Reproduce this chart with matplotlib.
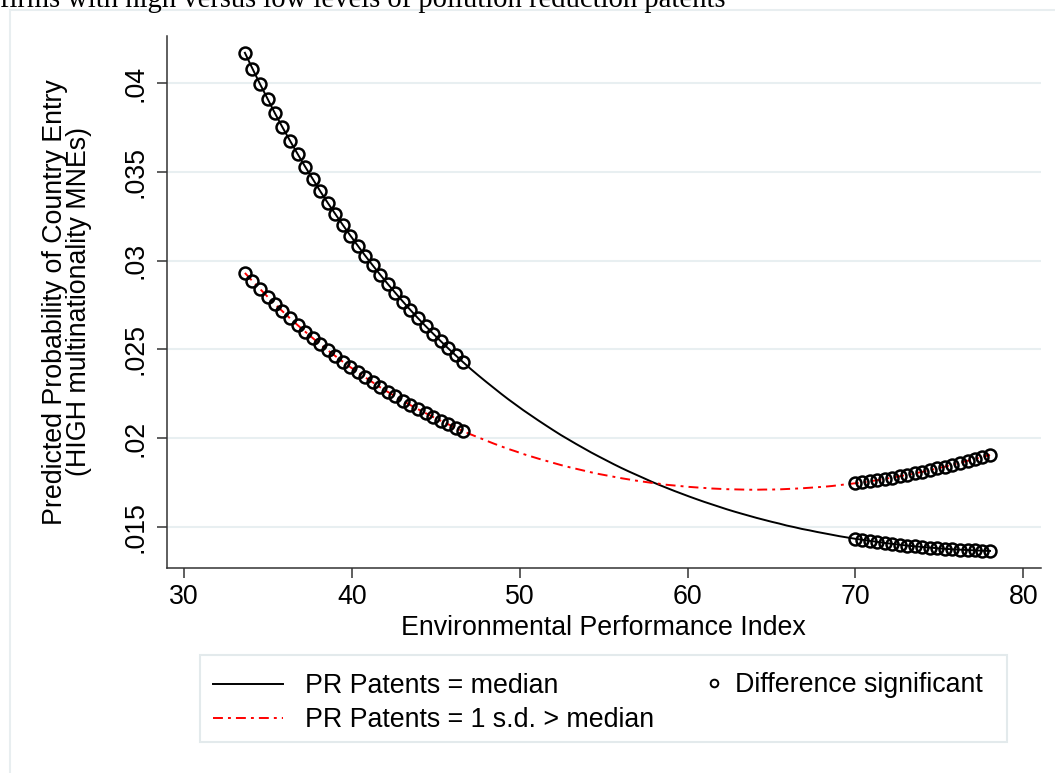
import matplotlib
matplotlib.use("Agg")
import matplotlib.pyplot as plt
from matplotlib.lines import Line2D
from matplotlib.patches import Rectangle

plt.rcParams['font.family'] = ['Liberation Sans', 'DejaVu Sans']

# evaluation grid of the Environmental Performance Index
epi = [33.63, 34.08, 34.53, 34.98, 35.42, 35.87, 36.32, 36.77, 37.22, 37.67,
       38.11, 38.56, 39.01, 39.46, 39.91, 40.36, 40.80, 41.25, 41.70, 42.15,
       42.60, 43.05, 43.49, 43.94, 44.39, 44.84, 45.29, 45.74, 46.19, 46.63,
       47.08, 47.53, 47.98, 48.43, 48.88, 49.32, 49.77, 50.22, 50.67, 51.12,
       51.57, 52.01, 52.46, 52.91, 53.36, 53.81, 54.26, 54.70, 55.15, 55.60,
       56.05, 56.50, 56.95, 57.40, 57.84, 58.29, 58.74, 59.19, 59.64, 60.09,
       60.53, 60.98, 61.43, 61.88, 62.33, 62.78, 63.22, 63.67, 64.12, 64.57,
       65.02, 65.47, 65.91, 66.36, 66.81, 67.26, 67.71, 68.16, 68.61, 69.05,
       69.50, 69.95, 70.40, 70.85, 71.30, 71.74, 72.19, 72.64, 73.09, 73.54,
       73.99, 74.43, 74.88, 75.33, 75.78, 76.23, 76.68, 77.12, 77.57, 78.02]

# predicted probability, PR patents = median
p_median = [.04172, .04083, .03996, .03913, .03831, .03752, .03676, .03602, .03530, .03461,
            .03393, .03327, .03264, .03202, .03142, .03084, .03028, .02973, .02920, .02868,
            .02818, .02769, .02722, .02676, .02632, .02589, .02547, .02506, .02466, .02428,
            .02390, .02354, .02319, .02285, .02251, .02219, .02188, .02157, .02128, .02099,
            .02071, .02044, .02017, .01992, .01967, .01943, .01919, .01897, .01875, .01853,
            .01832, .01812, .01793, .01774, .01755, .01737, .01720, .01703, .01687, .01671,
            .01656, .01641, .01627, .01613, .01599, .01586, .01574, .01562, .01550, .01539,
            .01528, .01518, .01507, .01498, .01488, .01480, .01471, .01463, .01455, .01447,
            .01440, .01433, .01427, .01421, .01415, .01409, .01404, .01399, .01394, .01390,
            .01386, .01383, .01379, .01376, .01373, .01371, .01369, .01367, .01365, .01364]

# predicted probability, PR patents = 1 s.d. above median
p_high = [.02931, .02885, .02841, .02797, .02755, .02715, .02675, .02637, .02600, .02564,
          .02529, .02496, .02463, .02431, .02400, .02371, .02342, .02314, .02286, .02260,
          .02235, .02210, .02186, .02163, .02141, .02119, .02098, .02078, .02058, .02039,
          .02021, .02004, .01987, .01970, .01954, .01939, .01925, .01910, .01897, .01884,
          .01872, .01860, .01848, .01837, .01827, .01817, .01807, .01798, .01790, .01782,
          .01774, .01767, .01760, .01754, .01748, .01743, .01737, .01733, .01729, .01725,
          .01722, .01719, .01716, .01714, .01712, .01711, .01710, .01709, .01709, .01710,
          .01710, .01711, .01713, .01715, .01717, .01720, .01723, .01726, .01730, .01735,
          .01740, .01745, .01750, .01756, .01763, .01770, .01777, .01785, .01793, .01801,
          .01810, .01819, .01829, .01839, .01850, .01861, .01872, .01883, .01894, .01905]

# where the difference between the two lines is significant
significant = [True] * 30 + [False] * 51 + [True] * 19

x_ticks = [30, 40, 50, 60, 70, 80]
y_ticks = [.015, .02, .025, .03, .035, .04]
y_tick_labels = ['.015', '.02', '.025', '.03', '.035', '.04']

FS = 19.3

fig = plt.figure(figsize=(10.55, 7.73), dpi=100)
ax = fig.add_axes([0.1583, 0.2652, 0.8280, 0.6882])

red_dash = (0, (5.1, 2.6, 1.5, 2.6))
ax.plot(epi, p_median, color='black', lw=1.4, zorder=3)
ax.plot(epi, p_high, color='#FF0000', lw=1.4, linestyle=red_dash, zorder=3)

sig_x = [x for x, s in zip(epi, significant) if s]
for ys in (p_median, p_high):
    sig_y = [y for y, s in zip(ys, significant) if s]
    ax.plot(sig_x, sig_y, linestyle='none', marker='o', markersize=8.6,
            markerfacecolor='none', markeredgecolor='black', markeredgewidth=1.8, zorder=4)

ax.set_xlim(28.99, 81.03)
ax.set_ylim(0.012677, 0.042666)
ax.set_xticks(x_ticks)
ax.set_yticks(y_ticks)
ax.set_yticklabels(y_tick_labels, rotation=90, va='center')

ax.grid(axis='y', color='#E8EFF1', lw=1.5, zorder=0)
ax.set_axisbelow(True)
for side in ['top', 'right']:
    ax.spines[side].set_visible(False)
for side in ['left', 'bottom']:
    ax.spines[side].set_color('#333333')
    ax.spines[side].set_linewidth(1.1)
ax.tick_params(axis='both', colors='#333333', length=7.5, width=1.1, labelsize=FS,
               labelcolor='black')
ax.tick_params(axis='x', pad=4)
ax.tick_params(axis='y', pad=6)

ax.set_xlabel('Environmental Performance Index', fontsize=FS, labelpad=3.5)
fig.text(67 / 1055, 1 - 302 / 773,
         'Predicted Probability of Country Entry\n(HIGH multinationality MNEs)',
         rotation=90, ha='center', va='center', fontsize=FS, linespacing=0.92,
         multialignment='center')

# caption cut off at the top of the image
fig.text(0.0, 1 - 7 / 773, 'firms with high versus low levels of pollution reduction patents',
         fontsize=20.6, family='Liberation Serif', ha='left', va='baseline')

# outer graph region border
fig.patches.append(Rectangle((10 / 1055, -0.05), 1.1, 1 - 10 / 773 + 0.05,
                             transform=fig.transFigure, fill=False,
                             edgecolor='#E8EEF0', lw=1.5))

# legend box
fig.patches.append(Rectangle((200 / 1055, 1 - 742 / 773), 807 / 1055, 87 / 773,
                             transform=fig.transFigure, fill=False,
                             edgecolor='#E3EAEC', lw=1.5))

line_handles = [Line2D([], [], color='black', lw=1.4),
                Line2D([], [], color='#FF0000', lw=1.4, linestyle=red_dash)]
leg1 = fig.legend(line_handles, ['PR Patents = median', 'PR Patents = 1 s.d. > median'],
                  loc='center left', bbox_to_anchor=(213 / 1055, 1 - 703 / 773),
                  frameon=False, fontsize=FS, handlelength=2.61, handletextpad=0.82,
                  borderpad=0, borderaxespad=0, labelspacing=0.3)
marker_handle = Line2D([], [], linestyle='none', marker='o', markersize=5.5,
                       markerfacecolor='none', markeredgecolor='black', markeredgewidth=1.4)
leg2 = fig.legend([marker_handle], ['Difference significant'],
                  loc='center left', bbox_to_anchor=(702 / 1055, 1 - 685 / 773),
                  frameon=False, fontsize=FS, handlelength=0.9, handletextpad=0.34,
                  borderpad=0, borderaxespad=0)

fig.savefig('out.png', dpi=100, facecolor='white')
